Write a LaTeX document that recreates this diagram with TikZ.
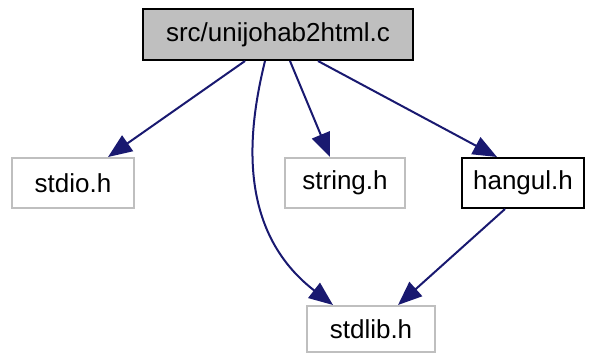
\documentclass[tikz,border=0pt]{standalone}
\usepackage{fontspec}
\setmainfont{Liberation Sans}
\usetikzlibrary{arrows.meta,calc}
\definecolor{edgeblue}{HTML}{191970}
\definecolor{boxgray}{HTML}{BFBFBF}
\tikzset{
  filebox/.style={draw=boxgray, fill=white, line width=1pt, minimum height=25pt, inner sep=0pt, font=\fontsize{13}{15}\selectfont},
  mainbox/.style={filebox, draw=black, fill=boxgray},
  localbox/.style={filebox, draw=black},
  dep/.style={draw=edgeblue, line width=1pt, -{Triangle[length=12pt,width=9.5pt]}}
}
\begin{document}
\begin{tikzpicture}[x=0.5pt,y=-0.5pt]
\useasboundingbox (0,0) rectangle (593,354);
\node[mainbox, minimum width=135pt, minimum height=25.5pt] (top) at (278,34.5) {src/unijohab2html.c};
\node[filebox, minimum width=61pt] (stdio) at (73,183) {stdio.h};
\node[filebox, minimum width=60pt] (string) at (345,183) {string.h};
\node[localbox, minimum width=61pt] (hangul) at (523,183) {hangul.h};
\node[filebox, minimum width=64pt, minimum height=23pt] (stdlib) at (371,329) {stdlib.h};
\draw[dep] ($(top.south)+(-33,0)$) -- ($(stdio.north)+(35,0)$);
\draw[dep] ($(top.south)+(12,0)$) -- ($(string.north)+(-15,0)$);
\draw[dep] ($(top.south)+(40,0)$) -- ($(hangul.north)+(-26,0)$);
\draw[dep] ($(top.south)+(-13,0)$) .. controls (248,130) and (236,230) .. ($(stdlib.north)+(-38,0)$);
\draw[dep] ($(hangul.south)+(-18,0)$) -- ($(stdlib.north)+(27,0)$);
\end{tikzpicture}
\end{document}
